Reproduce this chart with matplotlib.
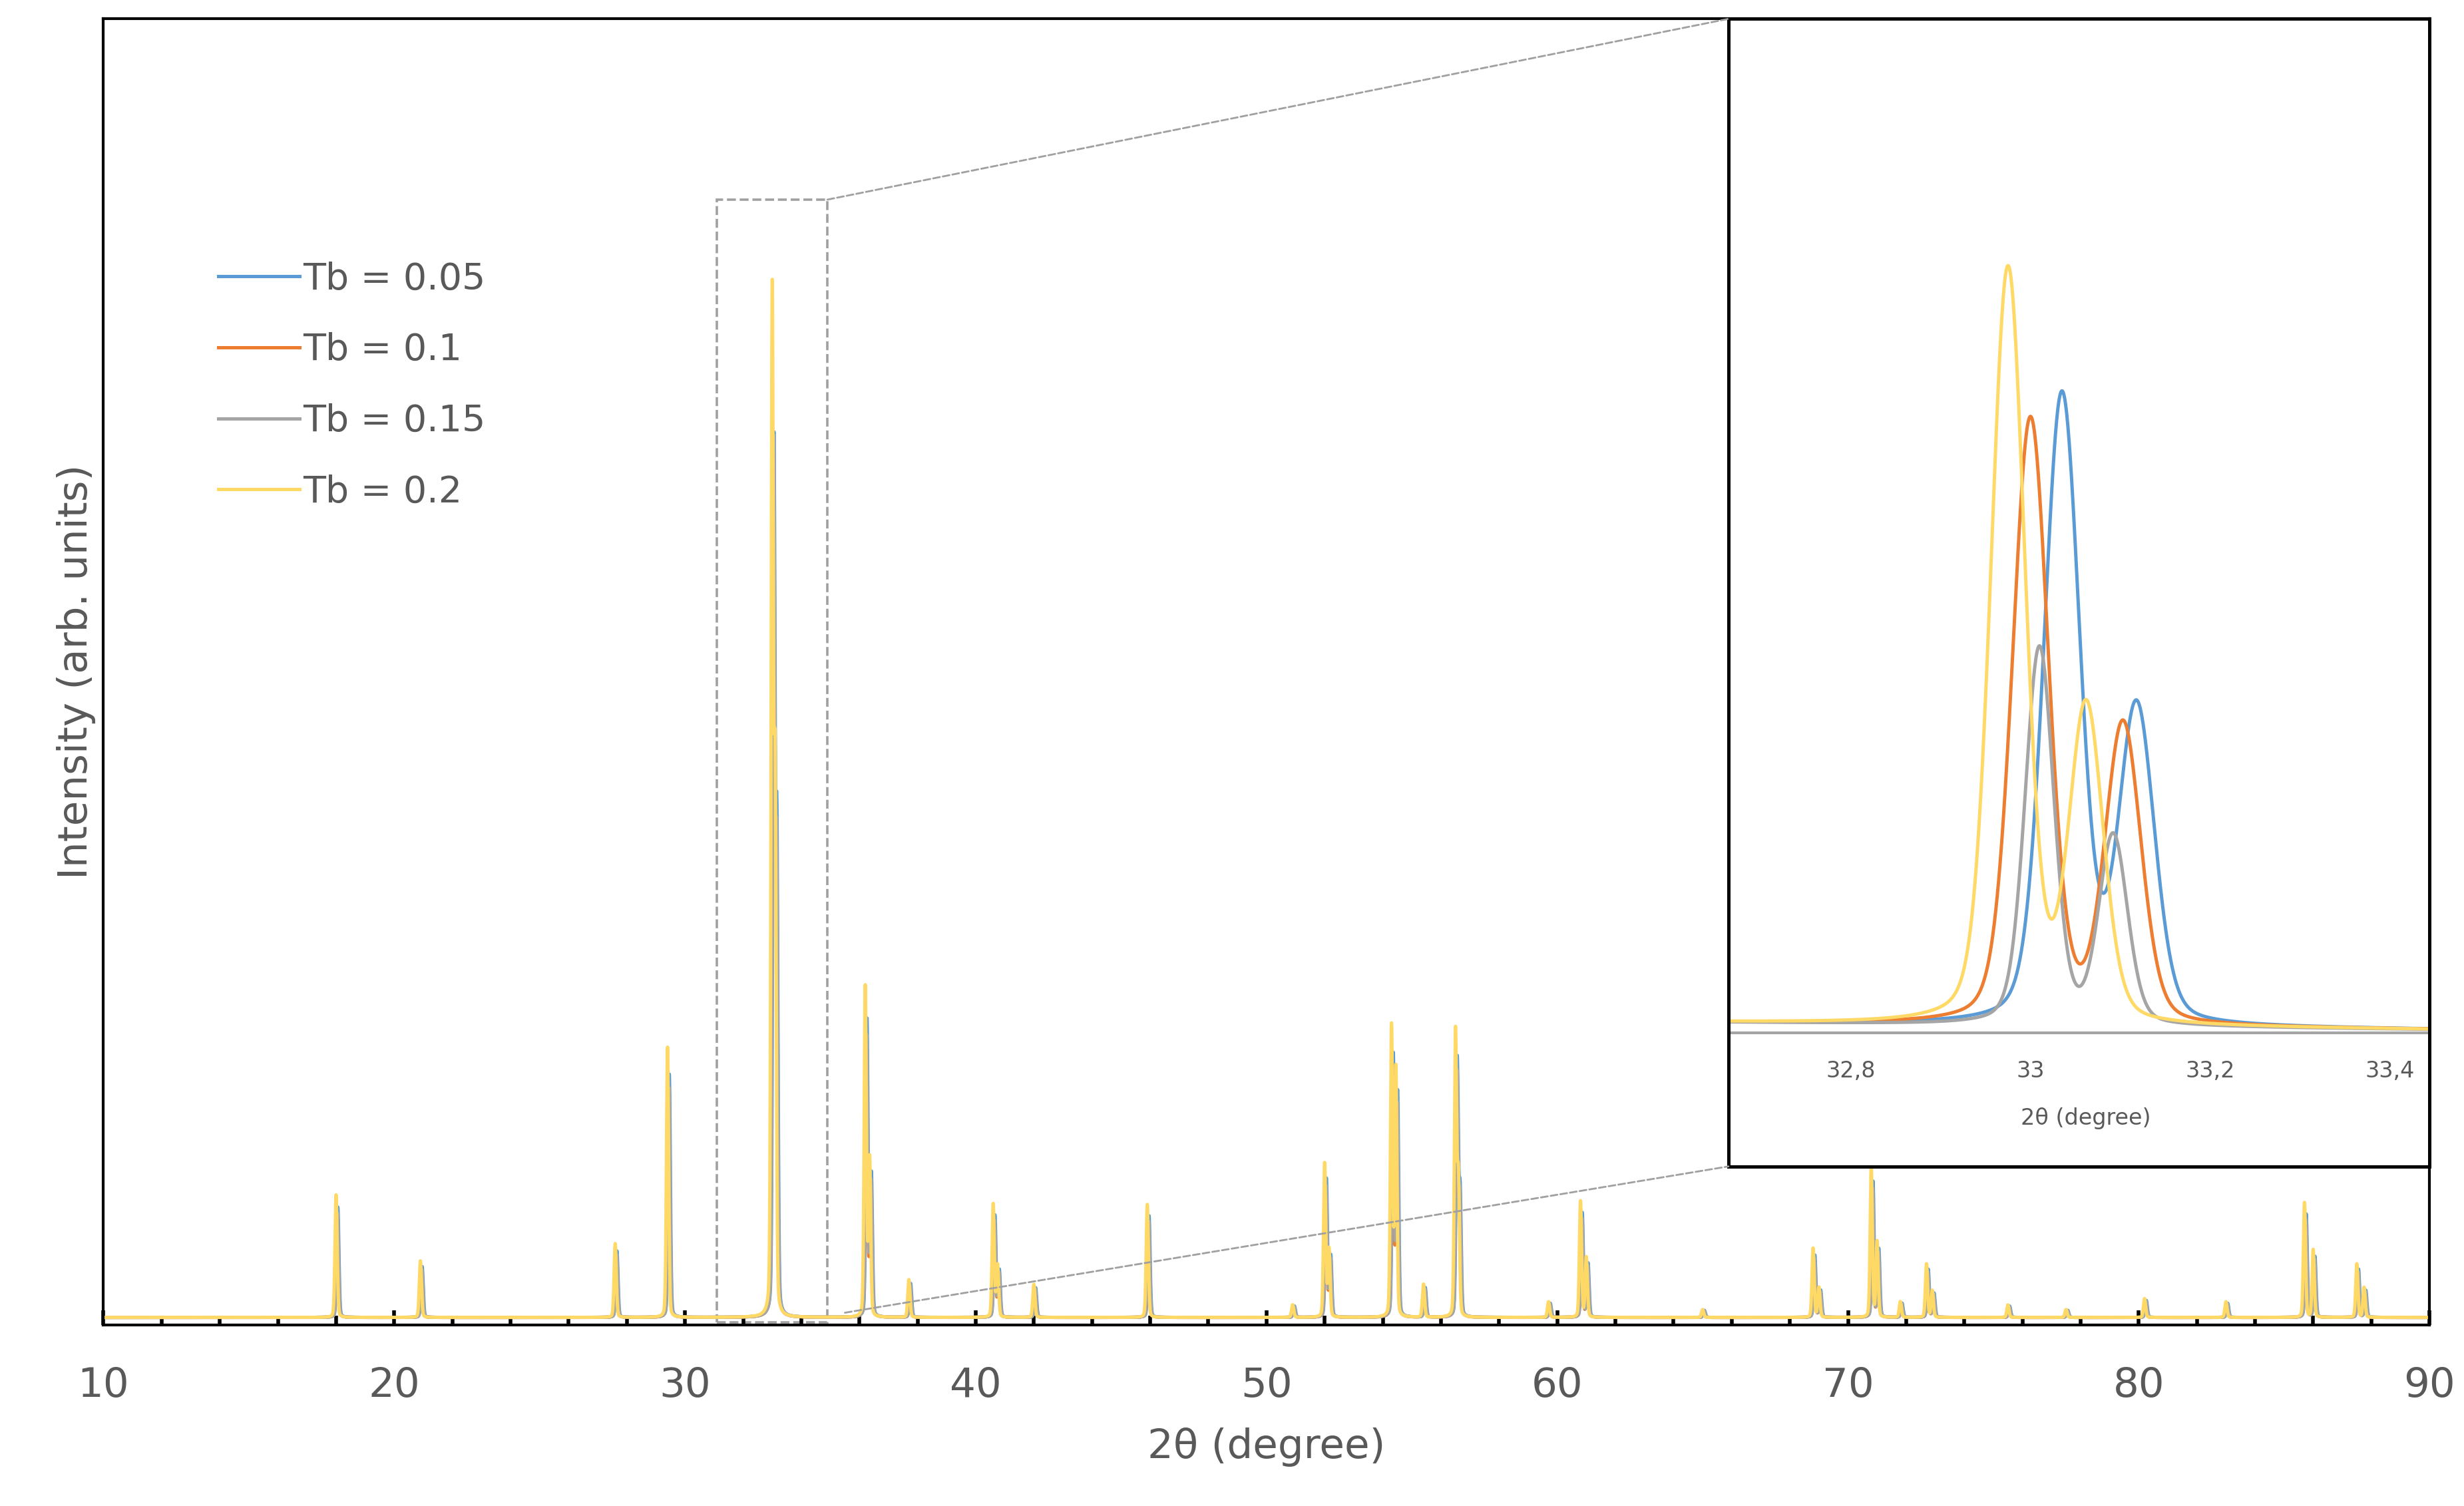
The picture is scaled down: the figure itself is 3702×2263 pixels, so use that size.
import numpy as np
import matplotlib.pyplot as plt
import matplotlib.transforms as mtransforms
from matplotlib.patches import Rectangle, ConnectionPatch

labels = ["Tb = 0.05", "Tb = 0.1", "Tb = 0.15", "Tb = 0.2"]
colors = ["#5B9BD5", "#ED7D31", "#A5A5A5", "#FFD966"]

# main pattern: peak positions (2theta) and heights per series
peak_pos = [18.0, 20.9, 27.6, 29.4, 33.0, 33.1, 36.2, 36.35, 37.7, 40.6, 40.75, 42.0,
            45.9, 50.9, 52.0, 52.15, 54.3, 54.45, 55.4, 56.5, 56.6, 59.7, 60.8, 61.0,
            65.0, 68.8, 69.0, 70.8, 71.0, 71.8, 72.7, 72.9, 75.5, 77.5, 80.2, 83.0,
            85.7, 86.0, 87.5, 87.75]
h_yellow = [78, 36, 47, 172, 640, 330, 210, 100, 24, 72, 33, 21,
            72, 8, 98, 43, 185, 158, 21, 180, 86, 10, 74, 38,
            5, 44, 19, 96, 48, 10, 34, 17, 8, 5, 12, 10,
            73, 43, 34, 19]
h_gray = [0.85 * h for h in h_yellow]
h_orange = [0.8 * h for h in h_yellow]
h_blue = [0.9 * h if h < 600 else 545 for h in h_yellow]
shifts = [0.06, 0.04, 0.05, 0.0]
main_heights = [h_blue, h_orange, h_gray, h_yellow]
background = 5

# inset: K-alpha doublets around 33 deg
inset_c1 = [33.035, 33.0, 33.01, 32.975]
inset_h1 = [400, 385, 240, 480]
inset_c2 = [33.118, 33.103, 33.092, 33.062]
inset_h2 = [200, 190, 120, 200]
inset_w = [0.02, 0.02, 0.016, 0.019]
inset_ticks = [32.8, 33.0, 33.2, 33.4]
inset_ticklabels = ["32,8", "33", "33,2", "33,4"]


def pvoigt(x, c, h, w, eta=0.25):
    g = np.exp(-0.5 * ((x - c) / w) ** 2)
    l = 1.0 / (1.0 + ((x - c) / (1.2 * w)) ** 2)
    return h * ((1 - eta) * g + eta * l)


fig = plt.figure(figsize=(18.51, 11.315), dpi=200)
ax = fig.add_axes([0.042, 0.12, 0.944, 0.8675])

x = np.linspace(10, 90, 16000)
for i in range(4):
    y = np.full_like(x, background, dtype=float)
    for p, h in zip(peak_pos, main_heights[i]):
        y += pvoigt(x, p + shifts[i], h, 0.038, 0.2)
    ax.plot(x, y, color=colors[i], lw=1.8, label=labels[i])

ax.set_xlim(10, 90)
ax.set_ylim(0, 831)
ax.set_yticks([])
ax.set_xticks(range(10, 91, 10))
ax.set_xticks(range(10, 91, 2), minor=True)
ax.tick_params(axis="x", direction="in", length=8, width=2, labelsize=22,
               labelcolor="#595959", pad=22)
ax.tick_params(axis="x", which="minor", direction="in", length=5, width=2)
for s in ax.spines.values():
    s.set_linewidth(1.5)
ax.set_xlabel("2θ (degree)", fontsize=22, color="#595959", labelpad=12)
ax.set_ylabel("Intensity (arb. units)", fontsize=22, color="#595959")

ax.legend(loc="upper left", bbox_to_anchor=(0.035, 0.84), frameon=False,
          fontsize=20, labelcolor="#595959", handlelength=2.2, handletextpad=0.1,
          labelspacing=0.95)

rect = Rectangle((31.1, 2), 3.8, 714, fill=False, ls="--", lw=1.3, ec="#A0A0A0")
ax.add_patch(rect)

ins = fig.add_axes([0.7015, 0.2255, 0.2845, 0.762])
xi = np.linspace(32.664, 33.444, 2000)
for i in range(4):
    yi = np.full_like(xi, 2.0) + 6 * (33.444 - xi)
    yi += pvoigt(xi, inset_c1[i], inset_h1[i], inset_w[i])
    yi += pvoigt(xi, inset_c2[i], inset_h2[i], inset_w[i])
    ins.plot(xi, yi, color=colors[i], lw=1.8)
ins.axhline(0, color="#A5A5A5", lw=1.5)
ins.set_xlim(32.664, 33.444)
ins.set_ylim(-85, 645)
ins.set_xticks([])
ins.set_yticks([])
tr = mtransforms.blended_transform_factory(ins.transData, ins.transAxes)
for t, lab in zip(inset_ticks, inset_ticklabels):
    ins.text(t, 0.083, lab, transform=tr, ha="center", va="center",
             fontsize=12, color="#595959")
ins.text(0.51, 0.042, "2θ (degree)", transform=ins.transAxes, ha="center",
         va="center", fontsize=12, color="#595959")
for s in ins.spines.values():
    s.set_linewidth(1.8)

for xy_a, xy_b in [((34.9, 716), (0, 1)), ((35.5, 8), (0, 0))]:
    con = ConnectionPatch(xyA=xy_a, coordsA=ax.transData, xyB=xy_b,
                          coordsB=ins.transAxes, ls="--", lw=1.0, color="#A0A0A0")
    fig.add_artist(con)

fig.savefig("out.png")
